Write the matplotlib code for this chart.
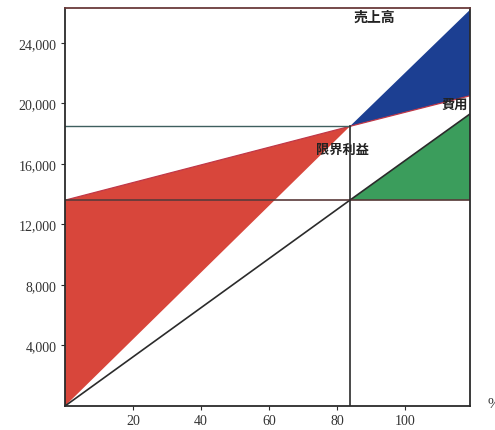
import matplotlib
matplotlib.use("Agg")
import matplotlib.pyplot as plt
from matplotlib.ticker import FuncFormatter

# Values
quantity = [0, 83.7, 119]              # x positions: origin, break-even, right end
sales = [0, 18480, 26180]               # 売上高
total_cost = [13600, 18480, 20500]      # 費用
contribution = [0, 13600, 19300]        # 限界利益
fixed_cost = 13600
x_ticks = [20, 40, 60, 80, 100]
y_ticks = [4000, 8000, 12000, 16000, 20000, 24000]
x_max = 119
y_max = 26300

RED = "#d8463b"
BLUE = "#1c3f92"
GREEN = "#3b9d5c"
DARK = "#2b2b2b"

fig = plt.figure(figsize=(4.95, 4.31), dpi=100)
ax = fig.add_axes([65/495, 1-407/431, (470-65)/495, (407-9)/431])

# loss region (red)
ax.fill([quantity[0], quantity[0], quantity[1]],
        [sales[0], total_cost[0], total_cost[1]], color=RED, lw=0, zorder=1)
# profit region (blue)
ax.fill([quantity[1], quantity[2], quantity[2]],
        [sales[1], sales[2], total_cost[2]], color=BLUE, lw=0, zorder=1)
# contribution above fixed cost (green)
ax.fill([quantity[1], quantity[2], quantity[2]],
        [contribution[1], contribution[2], fixed_cost], color=GREEN, lw=0, zorder=1)

# lines
ax.plot(quantity, total_cost, color="#c03848", lw=0.9, zorder=2)
ax.plot(quantity, contribution, color=DARK, lw=1.2, zorder=2)
ax.plot([0, x_max], [fixed_cost, fixed_cost], color="#5a3a3a", lw=1.2, zorder=2)
ax.plot([0, quantity[1]], [sales[1], sales[1]], color="#3f5f5f", lw=1.0, zorder=2)
ax.plot([quantity[1], quantity[1]], [0, sales[1]], color=DARK, lw=1.2, zorder=2)

ax.set_xlim(0, x_max)
ax.set_ylim(0, y_max)
ax.set_xticks(x_ticks)
ax.set_yticks(y_ticks)
ax.yaxis.set_major_formatter(FuncFormatter(lambda v, p: f"{int(v):,}"))
ax.tick_params(direction="out", length=3, width=0.8, color=DARK, pad=3)
for lab in ax.get_xticklabels() + ax.get_yticklabels():
    lab.set_fontfamily("Liberation Serif")
    lab.set_fontsize(10)
    lab.set_color("#333333")
for s in ax.spines.values():
    s.set_color(DARK)
    s.set_linewidth(1.3)
ax.spines["top"].set_color("#6a3a3a")

jp = ["Noto Sans CJK JP", "DejaVu Sans"]
ax.text(90.9, 25750, "売上高", family=jp, fontsize=10, fontweight="bold",
        ha="center", va="center", color="#222222", zorder=3)
ax.text(118.3, 20000, "費用", family=jp, fontsize=9.5, fontweight="bold",
        ha="right", va="center", color="#222222", zorder=3)
ax.text(81.5, 17000, "限界利益", family=jp, fontsize=9.5, fontweight="bold",
        ha="center", va="center", color="#222222", zorder=3)

fig.text(488/495, 1-405/431, "%", family="Liberation Serif", fontsize=11,
         ha="left", va="center", color="#333333")

fig.savefig("out.png", dpi=100)
